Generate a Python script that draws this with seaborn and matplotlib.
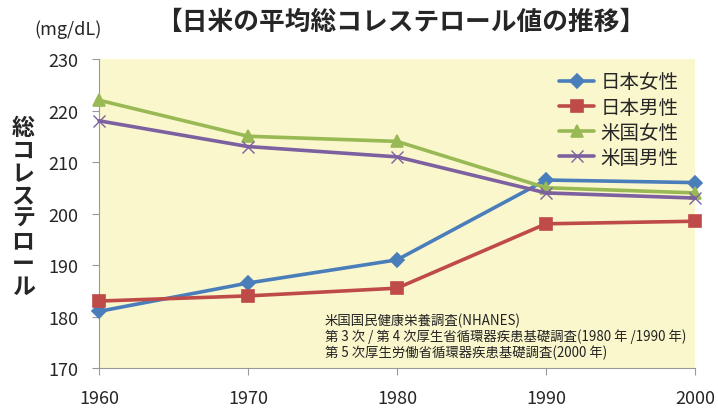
import pandas as pd
import seaborn as sns
import matplotlib.pyplot as plt

# データ (mg/dL)
years = [1960, 1970, 1980, 1990, 2000]
jp_women = [181, 186.5, 191, 206.5, 206]
jp_men = [183, 184, 185.5, 198, 198.5]
us_women = [222, 215, 214, 205, 204]
us_men = [218, 213, 211, 204, 203]
series_names = ["日本女性", "日本男性", "米国女性", "米国男性"]

df = pd.DataFrame({
    "year": years * 4,
    "value": jp_women + jp_men + us_women + us_men,
    "group": [n for n in series_names for _ in years],
})

sns.set_style("ticks")
plt.rcParams["font.family"] = ["Noto Sans CJK JP", "DejaVu Sans"]

palette = {"日本女性": "#4a7ebb", "日本男性": "#be4b48", "米国女性": "#98b954", "米国男性": "#7d60a0"}
markers = {"日本女性": "D", "日本男性": "s", "米国女性": "^", "米国男性": "x"}
msizes = {"日本女性": 7, "日本男性": 9, "米国女性": 9, "米国男性": 9}

fig = plt.figure(figsize=(7.18, 4.10), dpi=100)
ax = fig.add_axes([99 / 718, 41 / 410, 596 / 718, 309 / 410])
ax.set_facecolor("#faf7cd")

for name in series_names:
    sub = df[df["group"] == name]
    sns.lineplot(data=sub, x="year", y="value", color=palette[name], marker=markers[name],
                 markersize=msizes[name], markeredgewidth=1.2 if name != "米国男性" else 1.0,
                 markeredgecolor=palette[name], linewidth=2.6, label=name, ax=ax,
                 clip_on=False, zorder=3)

ax.set_xlim(1960, 2000)
ax.set_ylim(170, 230)
ax.set_xticks(years)
ax.set_yticks(range(170, 231, 10))
ax.tick_params(labelsize=13, color="#999999", length=5)
ax.tick_params(axis="y", pad=10)
ax.tick_params(axis="x", pad=10)
for s in ["top", "right"]:
    ax.spines[s].set_visible(False)
for s in ["left", "bottom"]:
    ax.spines[s].set_color("#999999")
ax.set_xlabel("")
ax.set_ylabel("")

leg = ax.legend(loc="upper right", frameon=False, fontsize=14, handlelength=1.8,
                handletextpad=0.3, labelspacing=0.22, borderaxespad=0.0,
                bbox_to_anchor=(0.985, 0.985))

# 縦書きの軸ラベル
fig.text(23 / 718, 1 - 208 / 410, "\n".join("総コレステロール"), ha="center", va="center",
         fontsize=16.5, fontweight="bold", linespacing=0.98)
fig.text(68 / 718, 1 - 30 / 410, "(mg/dL)", ha="center", va="center", fontsize=13)
fig.text(401 / 718, 1 - 22 / 410, "【日米の平均総コレステロール値の推移】", ha="center",
         va="center", fontsize=18.5, fontweight="bold")

ax.text(0.379, 0.18,
        "米国国民健康栄養調査(NHANES)\n第 3 次 / 第 4 次厚生省循環器疾患基礎調査(1980 年 /1990 年)\n第 5 次厚生労働省循環器疾患基礎調査(2000 年)",
        transform=ax.transAxes, fontsize=9.6, va="top", ha="left", linespacing=1.12, color="#222222")

fig.savefig("out.png", dpi=100)
